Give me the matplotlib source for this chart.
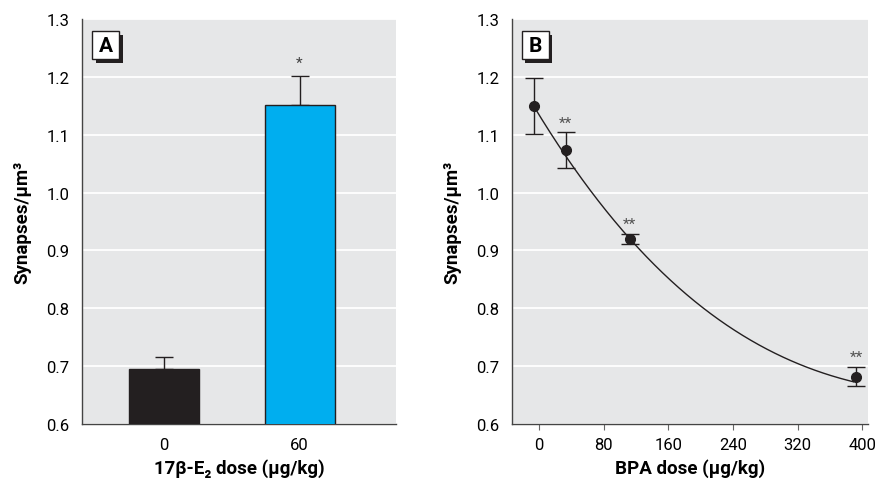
import numpy as np
import matplotlib.pyplot as plt
from matplotlib.patches import Rectangle

# Panel A: 17beta-E2
e2_doses = ["0", "60"]
e2_means = [0.695, 1.152]
e2_errs = [0.020, 0.050]
e2_stars = ["", "*"]

# Panel B: BPA
bpa_doses = [-6, 33, 112, 392]
bpa_means = [1.150, 1.073, 0.920, 0.682]
bpa_errs = [0.048, 0.031, 0.009, 0.017]
bpa_stars = ["", "**", "**", "**"]

# fitted curve
curve_x = [-6, 33, 112, 150, 205, 273, 335, 389]
curve_y = [1.145, 1.070, 0.915, 0.867, 0.799, 0.735, 0.698, 0.672]

yticks = [0.6, 0.7, 0.8, 0.9, 1.0, 1.1, 1.2, 1.3]
bpa_ticks = [0, 80, 160, 240, 320, 400]

plt.rcParams['font.family'] = ['Roboto', 'DejaVu Sans']

BG = '#e6e7e8'
W, H = 883, 481
fig = plt.figure(figsize=(W / 100, H / 100), dpi=100)
axA = fig.add_axes([0.0929, 0.1164, 0.3556, 0.842])
axB = fig.add_axes([0.5798, 0.1164, 0.4032, 0.842])


def style(ax, letter):
    ax.set_facecolor(BG)
    ax.set_ylim(0.6, 1.3)
    ax.set_yticks(yticks)
    ax.set_yticklabels([f"{t:.1f}" for t in yticks])
    ax.grid(axis='y', color='white', lw=1.3)
    ax.set_axisbelow(True)
    for s in ['top', 'right']:
        ax.spines[s].set_visible(False)
    for s in ['left', 'bottom']:
        ax.spines[s].set_color('#444444')
        ax.spines[s].set_linewidth(1.0)
    ax.tick_params(axis='y', length=0, labelsize=12, pad=9)
    ax.tick_params(axis='x', labelsize=12, pad=5, color='#666666')
    ax.set_ylabel("Synapses/μm³", fontsize=13.5, fontweight='bold', labelpad=11)
    # letter box with shadow, sizes in pixels
    pos = ax.get_position()
    axw, axh = pos.width * W, pos.height * H
    bw, bh = 27 / axw, 28 / axh
    x0, y0 = 10 / axw, 1 - 40 / axh
    ax.add_patch(Rectangle((x0 + 3.5 / axw, y0 - 4 / axh), bw, bh, transform=ax.transAxes,
                           facecolor='#231f20', edgecolor='none', zorder=5))
    ax.add_patch(Rectangle((x0, y0), bw, bh, transform=ax.transAxes,
                           facecolor='white', edgecolor='#231f20', lw=1.0, zorder=6))
    ax.text(x0 + bw / 2, y0 + bh / 2, letter, transform=ax.transAxes, ha='center',
            va='center', fontsize=15, fontweight='bold', zorder=7)


style(axA, "A")
x = np.arange(len(e2_doses))
axA.bar(x, e2_means, width=0.515, color=['#231f20', '#00aeef'],
        edgecolor='#231f20', lw=1.0, zorder=3)
axA.errorbar(x, e2_means, yerr=[np.zeros(len(e2_errs)), e2_errs], fmt='none',
             ecolor='#231f20', elinewidth=1.0, capsize=6.5, capthick=1.0, zorder=2)
for xi, m, e, s in zip(x, e2_means, e2_errs, e2_stars):
    if s:
        axA.annotate(s, (xi, m + e), xytext=(0, 9), textcoords='offset points',
                     ha='center', va='center', fontsize=11, color='#444444')
axA.set_xticks(x)
axA.set_xticklabels(e2_doses)
axA.tick_params(axis='x', length=0, pad=9)
axA.set_xlim(-0.6, 1.71)
axA.set_xlabel("17β-E₂ dose (μg/kg)", fontsize=13.5, fontweight='bold', labelpad=5)

style(axB, "B")
cfit = np.polyfit(curve_x, curve_y, 3)
xs = np.linspace(curve_x[0], curve_x[-1], 200)
axB.plot(xs, np.polyval(cfit, xs), color='#231f20', lw=1.0, zorder=3)
axB.errorbar(bpa_doses, bpa_means, yerr=bpa_errs, fmt='o', color='#231f20',
             ms=7, elinewidth=1.0, capsize=6.5, capthick=1.0, zorder=4)
for xi, m, e, s in zip(bpa_doses, bpa_means, bpa_errs, bpa_stars):
    if s:
        axB.annotate(s, (xi, m + e), xytext=(0, 7), textcoords='offset points',
                     ha='center', va='center', fontsize=11, color='#555555')
axB.set_xticks(bpa_ticks)
axB.set_xlim(-33.4, 406.8)
axB.tick_params(axis='x', length=4, direction='out')
axB.set_xlabel("BPA dose (μg/kg)", fontsize=13.5, fontweight='bold', labelpad=5)

fig.savefig("out.png", dpi=100)
